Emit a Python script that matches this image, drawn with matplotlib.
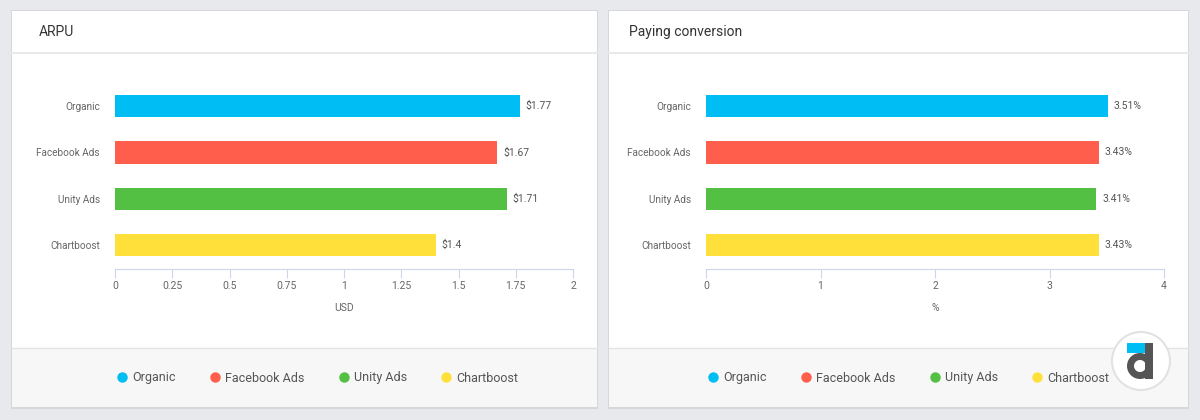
import matplotlib
matplotlib.use("Agg")
from matplotlib import pyplot as plt
from matplotlib.patches import Rectangle, Circle, Wedge
from matplotlib.lines import Line2D

plt.rcParams['font.family'] = ['Roboto', 'DejaVu Sans']

sources = ['Organic', 'Facebook Ads', 'Unity Ads', 'Chartboost']
colors = ['#00bef3', '#ff5e4c', '#53c043', '#ffe03b']

arpu = [1.77, 1.67, 1.71, 1.40]
arpu_ticks = [0, 0.25, 0.5, 0.75, 1, 1.25, 1.5, 1.75, 2]
arpu_tick_labels = ['0', '0.25', '0.5', '0.75', '1', '1.25', '1.5', '1.75', '2']

conv = [3.51, 3.43, 3.41, 3.43]
conv_ticks = [0, 1, 2, 3, 4]

W, H = 1200, 420
fig = plt.figure(figsize=(12, 4.2), dpi=100)
fig.patch.set_facecolor('#e8e9ec')

# background layer in pixel coords
bg = fig.add_axes([0, 0, 1, 1])
bg.set_xlim(0, W)
bg.set_ylim(H, 0)
bg.axis('off')

cards = [(12, 597, 39, 'ARPU'), (609, 1188, 629, 'Paying conversion')]
for x0, x1, tx, title in cards:
    bg.add_patch(Rectangle((x0 - 1, 10), x1 - x0 + 2, 399, fc='#d6d7da', ec='none'))
    bg.add_patch(Rectangle((x0, 11), x1 - x0, 396, fc='white', ec='none'))
    bg.add_patch(Rectangle((x0, 348), x1 - x0, 59, fc='#f7f7f7', ec='none'))
    bg.plot([x0, x1], [348, 348], color='#e4e4e4', lw=1)
    bg.plot([x0, x1], [52.5, 52.5], color='#e9e9ec', lw=1.5)
    bg.text(tx, 32, title, fontsize=10, color='#333333', va='center')


def bar_panel(left_px, values, ticks, tick_labels, xlabel, fmt, xmax):
    ax = fig.add_axes([left_px / W, (H - 269) / H, 458 / W, 186 / H])
    ax.patch.set_alpha(0)
    y = range(len(sources))
    ax.barh(y, values, height=0.48, color=colors)
    ax.set_xlim(0, xmax)
    ax.set_ylim(3.52, -0.5)
    ax.set_yticks(list(y))
    ax.set_yticklabels(sources)
    ax.set_xticks(ticks)
    ax.set_xticklabels(tick_labels)
    for s in ['top', 'right', 'left']:
        ax.spines[s].set_visible(False)
    ax.spines['bottom'].set_color('#ccd6eb')
    ax.tick_params(axis='y', length=0, pad=11, labelsize=7.2, labelcolor='#666666')
    ax.tick_params(axis='x', length=6.5, color='#ccd6eb', pad=2, labelsize=7.5,
                   labelcolor='#666666')
    ax.set_xlabel(xlabel, fontsize=7.5, color='#666666', labelpad=9)
    for i, v in enumerate(values):
        ax.annotate(fmt(v), (v, i), xytext=(4, 0), textcoords='offset points',
                    va='center', fontsize=7.5, color='#555555')
    return ax


bar_panel(115, arpu, arpu_ticks, arpu_tick_labels, 'USD', lambda v: f'${v:g}', 2)
bar_panel(706, conv, conv_ticks, [str(t) for t in conv_ticks], '%',
          lambda v: f'{v:.2f}%', 4)

# legends
handles = [Line2D([], [], marker='o', ls='none', markersize=7.5, color=c,
                  markeredgewidth=0) for c in colors]
for cx in [318, 909]:
    fig.legend(handles, sources, loc='center', bbox_to_anchor=(cx / W, (H - 378) / H),
               ncol=4, frameon=False, fontsize=9, labelcolor='#555555',
               handlelength=0.7, handletextpad=0.45, columnspacing=2.8)

# logo
bg.add_patch(Circle((1141, 361), 29, fc='white', ec='#e2e2e2', lw=1.5, zorder=5))
bg.add_patch(Rectangle((1127, 343), 18, 10, fc='#00bef3', ec='none', zorder=6))
bg.add_patch(Wedge((1140, 366), 13, 0, 360, width=7, fc='#555555', ec='none', zorder=6))
bg.add_patch(Rectangle((1145, 343), 8, 36, fc='#555555', ec='none', zorder=7))

fig.savefig('out.png', dpi=100, facecolor=fig.get_facecolor())
